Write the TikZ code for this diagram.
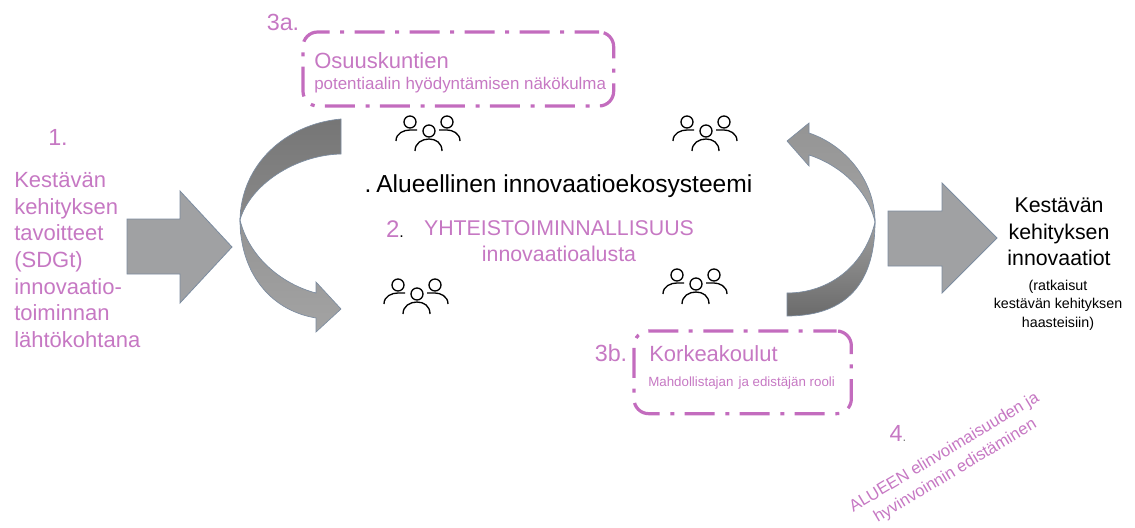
\documentclass[tikz,border=0pt]{standalone}
\usepackage{fontspec}
\setmainfont{Liberation Sans}
\usepackage{xcolor}
\definecolor{orchid}{HTML}{C678C3}
\definecolor{boxline}{HTML}{C36CBE}
\definecolor{arrowline}{HTML}{7C8CA0}
\definecolor{arrowgray}{HTML}{A0A1A3}
\tikzset{
    people/.pic={
        \draw[line width=1pt] (-18,-11) circle (6) (19,-11) circle (6) (1,-2) circle (6);
        \draw[line width=1pt] (-32,8) .. controls (-32,0) and (-24,-3) .. (-18,-3) -- (-11,-3);
        \draw[line width=1pt] (32,8) .. controls (32,0) and (24,-3) .. (19,-3) -- (11,-3);
        \draw[line width=1pt] (-13,18) .. controls (-13,10) and (-6,6) .. (1,6) .. controls (8,6) and (14,10) .. (14,18);
    },
    pinktext/.style={text=orchid, inner sep=0pt},
    blacktext/.style={text=black, inner sep=0pt},
    dashbox/.style={draw=boxline, line width=2.4pt, rounded corners=11pt, outer sep=0pt, dash pattern=on 22.5pt off 8pt on 3pt off 7.75pt},
    bigarrow/.style={draw=arrowline, line width=0.6pt, fill=arrowgray},
    curvedark/.style={draw=arrowline, line width=0.5pt, top color=black!54, bottom color=black!46},
    curvelight/.style={draw=arrowline, line width=0.5pt, top color=black!42, bottom color=black!36},
    curvelow/.style={draw=arrowline, line width=0.5pt, top color=black!38, bottom color=black!58}
}
\begin{document}
\begin{tikzpicture}[x=0.75pt, y=-0.75pt]
    \useasboundingbox (0,0) rectangle (1135,528);

    % Big arrows
    \path[bigarrow] (127,219) -- (180,219) -- (180,191) -- (232,247) -- (180,303) -- (180,274) -- (127,274) -- cycle;
    \path[bigarrow] (888,211) -- (942,211) -- (942,183) -- (997,238) -- (942,293) -- (942,266) -- (888,266) -- cycle;

    % Left curved arrow
    \path[curvedark] (341,119) .. controls (285,124) and (241,165) .. (240,220) .. controls (250,185) and (295,155) .. (341,154) -- cycle;
    \path[curvelight] (240,220) .. controls (240,270) and (268,310) .. (316,318) -- (316,332) -- (341,309) -- (316,282) -- (316,293) .. controls (285,285) and (250,260) .. (240,220) -- cycle;

    % Right curved arrow
    \path[curvelight] (875,222) .. controls (875,180) and (845,145) .. (809,133) -- (809,123) -- (787,141) -- (809,166) -- (809,155) .. controls (840,165) and (868,190) .. (875,222) -- cycle;
    \path[curvelow] (875,222) .. controls (875,290) and (840,316) .. (787,316) -- (787,293) .. controls (830,293) and (865,265) .. (875,222) -- cycle;

    % People
    \pic at (428,133) {people};
    \pic at (705,133) {people};
    \pic at (416,296) {people};
    \pic at (695,286) {people};

    % Boxes
    \node[dashbox, dash phase=4.3pt, minimum width=233pt, minimum height=55.5pt, anchor=north west] (osuusbox) at (303,32) {};
    \node[dashbox, dash phase=5pt, minimum width=163pt, minimum height=62pt, anchor=north west] (korkeabox) at (634,331) {};

    % Texts
    \node[pinktext, font=\fontsize{17.5}{20}\selectfont] (num3a) at (283,22) {3a.};
    \node[pinktext, font=\fontsize{16.5}{18}\selectfont, anchor=west] (osuus) at (314,61) {Osuuskuntien};
    \node[pinktext, font=\fontsize{12.7}{14}\selectfont, anchor=west] (potentiaali) at (314,85) {potentiaalin hyödyntämisen näkökulma};
    \node[pinktext, font=\fontsize{17.5}{20}\selectfont] (num1) at (58,137) {1.};
    \node[pinktext, font=\fontsize{16.5}{20}\selectfont, align=left, anchor=north west] (tavoitteet) at (14,172) {Kestävän\\kehityksen\\tavoitteet\\(SDGt)\\innovaatio-\\toiminnan\\lähtökohtana};
    \node[blacktext, font=\fontsize{18.45}{20}\selectfont] (ekosysteemi) at (558.5,186) {.\hspace{0.2em}Alueellinen innovaatioekosysteemi};
    \node[pinktext, font=\fontsize{18}{20}\selectfont] (num2) at (395,229) {2\textcolor{black}{\fontsize{12}{14}\selectfont.}};
    \node[pinktext, font=\fontsize{16}{19}\selectfont, align=center] (yhteis) at (559,241) {YHTEISTOIMINNALLISUUS\\innovaatioalusta};
    \node[pinktext, font=\fontsize{17.5}{20}\selectfont] (num3b) at (611,353) {3b.};
    \node[pinktext, font=\fontsize{16.5}{18}\selectfont, anchor=west] (korkea) at (649,354) {Korkeakoulut};
    \node[pinktext, font=\fontsize{10}{12}\selectfont, anchor=west] (rooli) at (648,383) {Mahdollistajan\hspace{0.38em}ja edistäjän rooli};
    \node[blacktext, font=\fontsize{16}{20}\selectfont, align=center] (innovaatiot) at (1059,232) {Kestävän\\kehityksen\\innovaatiot};
    \node[blacktext, font=\fontsize{10.7}{14}\selectfont, align=center] (ratkaisut) at (1058,305) {(ratkaisut\\kestävän kehityksen\\haasteisiin)};
    \node[pinktext, font=\fontsize{17.5}{20}\selectfont] (num4) at (898,433) {4\textcolor{gray}{\fontsize{10}{12}\selectfont.}};
    \node[pinktext, font=\fontsize{12.5}{16}\selectfont, align=center, rotate=31] (alueen) at (950,462) {ALUEEN elinvoimaisuuden ja\\hyvinvoinnin edistäminen};
\end{tikzpicture}
\end{document}
